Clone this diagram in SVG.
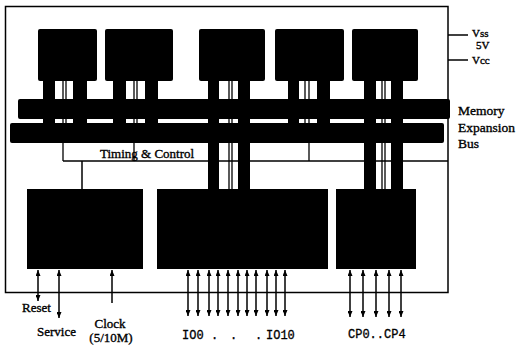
<svg xmlns="http://www.w3.org/2000/svg" width="516" height="351" viewBox="0 0 516 351">
<style>
.blk{fill:#000}
.ln{stroke:#000;stroke-width:1.5;fill:none}
.thin{stroke:#000;stroke-width:1.3;fill:none}
.arr{stroke:#000;stroke-width:1.5;fill:none;marker-end:url(#ah);marker-start:url(#ah)}
.arr1{stroke:#000;stroke-width:1.5;fill:none;marker-start:url(#ah)}
.t{font-family:"Liberation Serif","Times New Roman",serif;font-size:13px;fill:#000;stroke:#000;stroke-width:0.35}
.s{font-family:"Liberation Serif","Times New Roman",serif;font-size:11px;fill:#000;stroke:#000;stroke-width:0.35}
.m{font-family:"Liberation Mono","Courier New",monospace;font-size:12px;fill:#000;stroke:#000;stroke-width:0.3}
</style>
<defs>
<marker id="ah" viewBox="0 0 10 10" refX="10" refY="5" markerWidth="6" markerHeight="5" markerUnits="userSpaceOnUse" orient="auto-start-reverse" preserveAspectRatio="none">
<path d="M0,0 L10,5 L0,10 z" fill="#000"/>
</marker>
</defs>
<rect width="516" height="351" fill="#fff"/>
<g id="frame">
<rect class="ln" x="5.5" y="6.5" width="442.5" height="286"/>
<line class="ln" x1="448" y1="35" x2="468" y2="35"/>
<line class="ln" x1="448" y1="60" x2="468" y2="60"/>
<text class="s" x="472" y="37">Vss</text>
<text class="s" x="476" y="49">5V</text>
<text class="s" x="472" y="64">Vcc</text>
</g>
<g id="connectors">
<rect class="blk" x="43" y="81" width="12" height="62"/>
<rect class="blk" x="73" y="81" width="14" height="62"/>
<line class="thin" x1="63" y1="81" x2="63" y2="161"/>
<line class="thin" x1="66" y1="81" x2="66" y2="143"/>
<rect class="blk" x="113" y="81" width="13" height="62"/>
<rect class="blk" x="145" y="81" width="13" height="62"/>
<line class="thin" x1="134" y1="81" x2="134" y2="161"/>
<line class="thin" x1="137" y1="81" x2="137" y2="143"/>
<rect class="blk" x="208" y="81" width="11" height="108"/>
<rect class="blk" x="238" y="81" width="12" height="108"/>
<line class="thin" x1="229" y1="81" x2="229" y2="189"/>
<line class="thin" x1="232" y1="81" x2="232" y2="189"/>
<rect class="blk" x="288" y="81" width="11" height="62"/>
<rect class="blk" x="317" y="81" width="13" height="62"/>
<line class="thin" x1="305" y1="81" x2="305" y2="143"/>
<line class="thin" x1="309" y1="81" x2="309" y2="161"/>
<rect class="blk" x="364" y="81" width="12" height="108"/>
<rect class="blk" x="391" y="81" width="12" height="108"/>
<line class="thin" x1="382" y1="81" x2="382" y2="189"/>
<line class="thin" x1="385" y1="81" x2="385" y2="189"/>
<line class="ln" x1="63" y1="161" x2="448" y2="161"/>
<line class="ln" x1="82" y1="161" x2="82" y2="189"/>
<line class="arr" x1="38" y1="270" x2="38" y2="301"/>
<line class="arr" x1="59" y1="270" x2="59" y2="318"/>
<line class="arr1" x1="112" y1="270" x2="112" y2="303"/>
<line class="arr" x1="188" y1="270" x2="188" y2="316"/>
<line class="arr" x1="198" y1="270" x2="198" y2="316"/>
<line class="arr" x1="209" y1="270" x2="209" y2="316"/>
<line class="arr" x1="218" y1="270" x2="218" y2="316"/>
<line class="arr" x1="228" y1="270" x2="228" y2="316"/>
<line class="arr" x1="238" y1="270" x2="238" y2="316"/>
<line class="arr" x1="247" y1="270" x2="247" y2="316"/>
<line class="arr" x1="256" y1="270" x2="256" y2="316"/>
<line class="arr" x1="267" y1="270" x2="267" y2="316"/>
<line class="arr" x1="276" y1="270" x2="276" y2="316"/>
<line class="arr" x1="285" y1="270" x2="285" y2="316"/>
<line class="arr" x1="350" y1="270" x2="350" y2="317"/>
<line class="arr" x1="363" y1="270" x2="363" y2="317"/>
<line class="arr" x1="376" y1="270" x2="376" y2="317"/>
<line class="arr" x1="389" y1="270" x2="389" y2="317"/>
<line class="arr" x1="401" y1="270" x2="401" y2="317"/>
</g>
<g id="block1"><rect class="blk" x="38" y="29" width="59" height="52" rx="2"/></g>
<g id="block2"><rect class="blk" x="105" y="29" width="68" height="52" rx="2"/></g>
<g id="block3"><rect class="blk" x="199" y="29" width="66" height="52" rx="2"/></g>
<g id="block4"><rect class="blk" x="275" y="29" width="69" height="52" rx="2"/></g>
<g id="block5"><rect class="blk" x="352" y="29" width="66" height="52" rx="2"/></g>
<g id="bus-upper"><rect class="blk" x="18" y="99" width="432" height="20" rx="2"/></g>
<g id="bus-lower"><rect class="blk" x="10" y="123" width="434" height="20" rx="2"/></g>
<g id="bus-label">
<text class="t" x="458" y="115" style="font-size:13.5px">Memory</text>
<text class="t" x="458" y="132" style="font-size:13.5px">Expansion</text>
<text class="t" x="458" y="148" style="font-size:13.5px">Bus</text>
</g>
<g id="timing-control"><text class="t" x="100" y="158">Timing &amp; Control</text></g>
<g id="cpu-block"><rect class="blk" x="27" y="189" width="116" height="80"/></g>
<g id="io-block"><rect class="blk" x="157" y="189" width="171" height="80"/></g>
<g id="cp-block"><rect class="blk" x="336" y="189" width="80" height="80"/></g>
<g id="labels">
<text class="t" x="22" y="312">Reset</text>
<text class="t" x="37" y="336">Service</text>
<text class="t" x="110" y="328" text-anchor="middle">Clock</text>
<text class="t" x="111" y="342" text-anchor="middle">(5/10M)</text>
<text class="m" x="182" y="339">IO0</text>
<text class="m" x="211" y="339">.</text>
<text class="m" x="230" y="339">.</text>
<text class="m" x="255" y="339">.</text>
<text class="m" x="266" y="339">IO10</text>
<text class="m" x="348" y="338">CP0..CP4</text>
</g>
</svg>
